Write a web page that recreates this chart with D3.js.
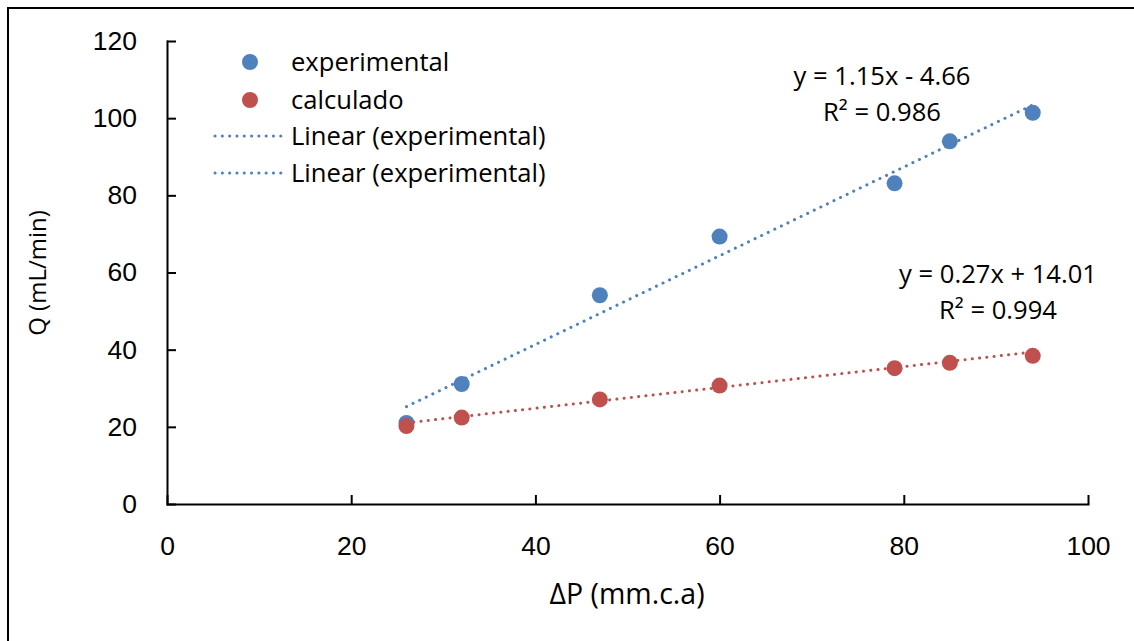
<!DOCTYPE html>
<html>
<head>
<meta charset="utf-8">
<script src="https://cdn.jsdelivr.net/npm/d3@7"></script>
<style>
  body { margin: 0; background: #fff; }
  svg { display: block; font-family: "Open Sans", "Liberation Sans", sans-serif; }
  .axis path, .axis line { stroke: #000; stroke-width: 2; }
  .axis text { font-size: 26.5px; fill: #000; }
  .trend { fill: none; stroke-width: 3; stroke-linecap: round; stroke-dasharray: 0.1 7.2; }
</style>
</head>
<body>
<svg id="chart" width="1134" height="641"></svg>
<script>
'use strict';
// data
let deltaP = [26, 32, 47, 60, 79, 85, 94];
let experimental = [21, 31.1, 54.1, 69.3, 83.1, 94, 101.4];
let calculado = [20.2, 22.4, 27.1, 30.7, 35.2, 36.6, 38.4];
let xTicks = [0, 20, 40, 60, 80, 100];
let yTicks = [0, 20, 40, 60, 80, 100, 120];
let fits = [
    {name: "experimental", slope: 1.15, intercept: -4.66, eq: "y = 1.15x - 4.66", r2: "R² = 0.986"},
    {name: "calculado", slope: 0.27, intercept: 14.01, eq: "y = 0.27x + 14.01", r2: "R² = 0.994"}
];
let legendLabels = ["experimental", "calculado", "Linear (experimental)", "Linear (experimental)"];

let colors = {experimental: "#4F81BD", calculado: "#C0504D"};

let svg = d3.select("#chart");

// outer chart border
svg.append("rect")
    .attr("x", 8).attr("y", 8)
    .attr("width", 1400).attr("height", 800)
    .attr("fill", "none").attr("stroke", "#000").attr("stroke-width", 2);

let x = d3.scaleLinear().domain([0, 100]).range([167, 1088]);
let y = d3.scaleLinear().domain([0, 120]).range([504, 41]);

svg.append("g")
    .attr("class", "axis")
    .attr("transform", "translate(0,504)")
    .call(d3.axisBottom(x).tickValues(xTicks).tickSizeInner(-9).tickSizeOuter(0).tickPadding(32))
    .call(g => g.selectAll("text").attr("dy", "0.71em"));

svg.append("g")
    .attr("class", "axis")
    .attr("transform", "translate(167,0)")
    .call(d3.axisLeft(y).tickValues(yTicks).tickSizeInner(-9).tickSizeOuter(0).tickPadding(30));

svg.selectAll(".axis .domain").attr("stroke-linecap", "square");

svg.append("text")
    .attr("transform", "translate(38,273) rotate(-90)")
    .attr("text-anchor", "middle")
    .attr("dy", "0.35em")
    .style("font-size", "24px")
    .text("Q (mL/min)");

svg.append("text")
    .attr("x", 627).attr("y", 594)
    .attr("text-anchor", "middle")
    .attr("dy", "0.35em")
    .style("font-size", "28.5px")
    .text("ΔP (mm.c.a)");

// trendlines
let line = d3.line().x(d => x(d[0])).y(d => y(d[1]));
let xExt = d3.extent(deltaP);
svg.selectAll("path.trend")
    .data(fits)
    .enter().append("path")
    .attr("class", "trend")
    .attr("stroke", d => colors[d.name])
    .attr("d", d => line(xExt.map(v => [v, d.slope * v + d.intercept])));

// points
let series = [
    {name: "experimental", values: experimental},
    {name: "calculado", values: calculado}
];
series.forEach(s => {
    svg.append("g").selectAll("circle")
        .data(s.values)
        .enter().append("circle")
        .attr("cx", (d, i) => x(deltaP[i]))
        .attr("cy", d => y(d))
        .attr("r", 8)
        .attr("fill", colors[s.name]);
});

// equation labels
let labelPos = [{x: 882, y: 76}, {x: 998, y: 274}];
fits.forEach((f, i) => {
    let t = svg.append("text")
        .attr("text-anchor", "middle")
        .style("font-size", "25.6px");
    t.append("tspan").attr("x", labelPos[i].x).attr("y", labelPos[i].y).attr("dy", "0.35em").text(f.eq);
    t.append("tspan").attr("x", labelPos[i].x).attr("y", labelPos[i].y + 36).attr("dy", "0.35em").text(f.r2);
});

// legend
let legend = svg.append("g");
let legendY = [62, 100, 136, 173];
legendLabels.forEach((lbl, i) => {
    if (i < 2) {
        legend.append("circle")
            .attr("cx", 250).attr("cy", legendY[i]).attr("r", 8)
            .attr("fill", i === 0 ? colors.experimental : colors.calculado);
    } else {
        legend.append("line")
            .attr("class", "trend")
            .attr("x1", 215).attr("x2", 284)
            .attr("y1", legendY[i]).attr("y2", legendY[i])
            .attr("stroke", colors.experimental);
    }
    legend.append("text")
        .attr("x", 291).attr("y", legendY[i])
        .attr("dy", "0.35em")
        .style("font-size", "25.6px")
        .text(lbl);
});
</script>
</body>
</html>
